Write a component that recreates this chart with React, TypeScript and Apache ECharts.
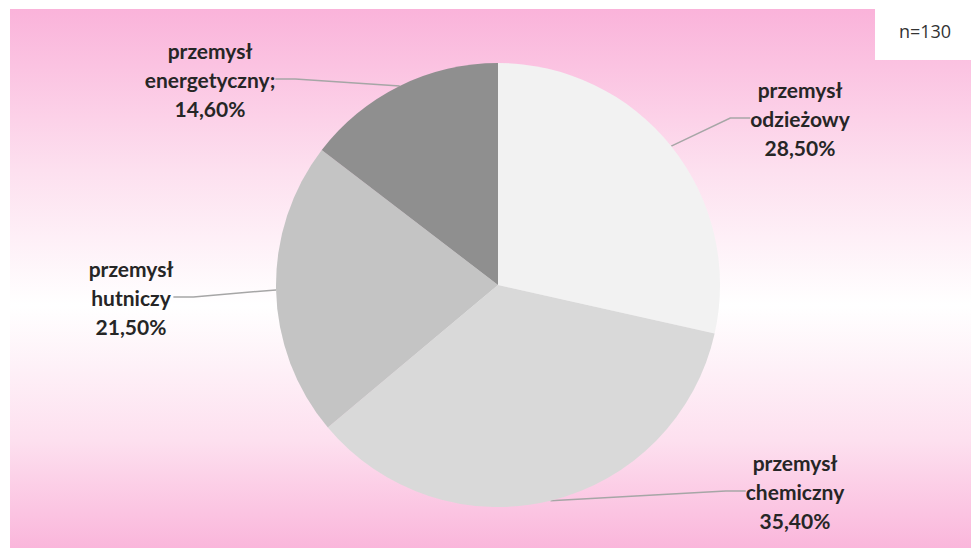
import React, { useEffect, useRef } from "react";
import * as echarts from "echarts";

const categories = ["przemysł odzieżowy", "przemysł chemiczny", "przemysł hutniczy", "przemysł energetyczny"];
const separators = ["", "", "", ";"];
const values = [28.5, 35.4, 21.5, 14.6];
const sliceColors = ["#f2f2f2", "#d9d9d9", "#c4c4c4", "#8f8f8f"];
const sampleNote = "n=130";

// label centres (x, y) in pixels
const labelPos: [number, number][] = [
  [800, 118],
  [795, 491],
  [131, 297],
  [210, 79],
];

export default function App() {
  const ref = useRef<HTMLDivElement>(null);
  useEffect(() => {
    if (!ref.current) return;
    const chart = echarts.init(ref.current, null, { renderer: "svg" });
    chart.setOption({
      animation: false,
      backgroundColor: "#ffffff",
      graphic: [
        {
          type: "rect",
          z: -10,
          silent: true,
          shape: { x: 10, y: 9, width: 961, height: 539 },
          style: {
            fill: new echarts.graphic.LinearGradient(0, 0, 0, 1, [
              { offset: 0, color: "#fab3da" },
              { offset: 0.3, color: "#fde0ef" },
              { offset: 0.55, color: "#ffffff" },
              { offset: 0.8, color: "#fde0ef" },
              { offset: 1, color: "#fab6db" },
            ]),
          },
        },
        {
          type: "rect",
          z: 10,
          shape: { x: 875, y: 0, width: 96, height: 60 },
          style: { fill: "#ffffff", stroke: "none" },
        },
        {
          type: "text",
          z: 11,
          x: 925,
          y: 31,
          style: {
            text: sampleNote,
            fill: "#333333",
            font: "18px 'Open Sans', sans-serif",
            align: "center",
            verticalAlign: "middle",
          },
        },
      ],
      series: [
        {
          type: "pie",
          center: [498, 285],
          radius: 222,
          startAngle: 90,
          clockwise: true,
          data: categories.map((c, i) => ({
            name: c,
            value: values[i],
            itemStyle: { color: sliceColors[i] },
          })),
          label: {
            show: true,
            position: "outside",
            formatter: (p: any) => {
              const parts = categories[p.dataIndex].split(" ");
              return (
                parts[0] +
                "\n" +
                parts[1] +
                separators[p.dataIndex] +
                "\n" +
                values[p.dataIndex].toFixed(2).replace(".", ",") +
                "%"
              );
            },
            fontFamily: "Lato",
            fontWeight: "bold",
            fontSize: 21,
            lineHeight: 29,
            color: "#262626",
            align: "center",
          },
          labelLine: {
            show: true,
            length: 20,
            length2: 20,
            lineStyle: { color: "#a6a6a6", width: 1.5 },
          },
          labelLayout: (params: any) => {
            const p = labelPos[params.dataIndex];
            return { x: p[0], y: p[1], align: "center", verticalAlign: "middle" };
          },
          emphasis: { disabled: true },
        },
      ],
    });
    return () => chart.dispose();
  }, []);
  return (
    <div
      ref={ref}
      style={{ position: "fixed", left: 0, top: 0, width: 971, height: 554 }}
    />
  );
}
